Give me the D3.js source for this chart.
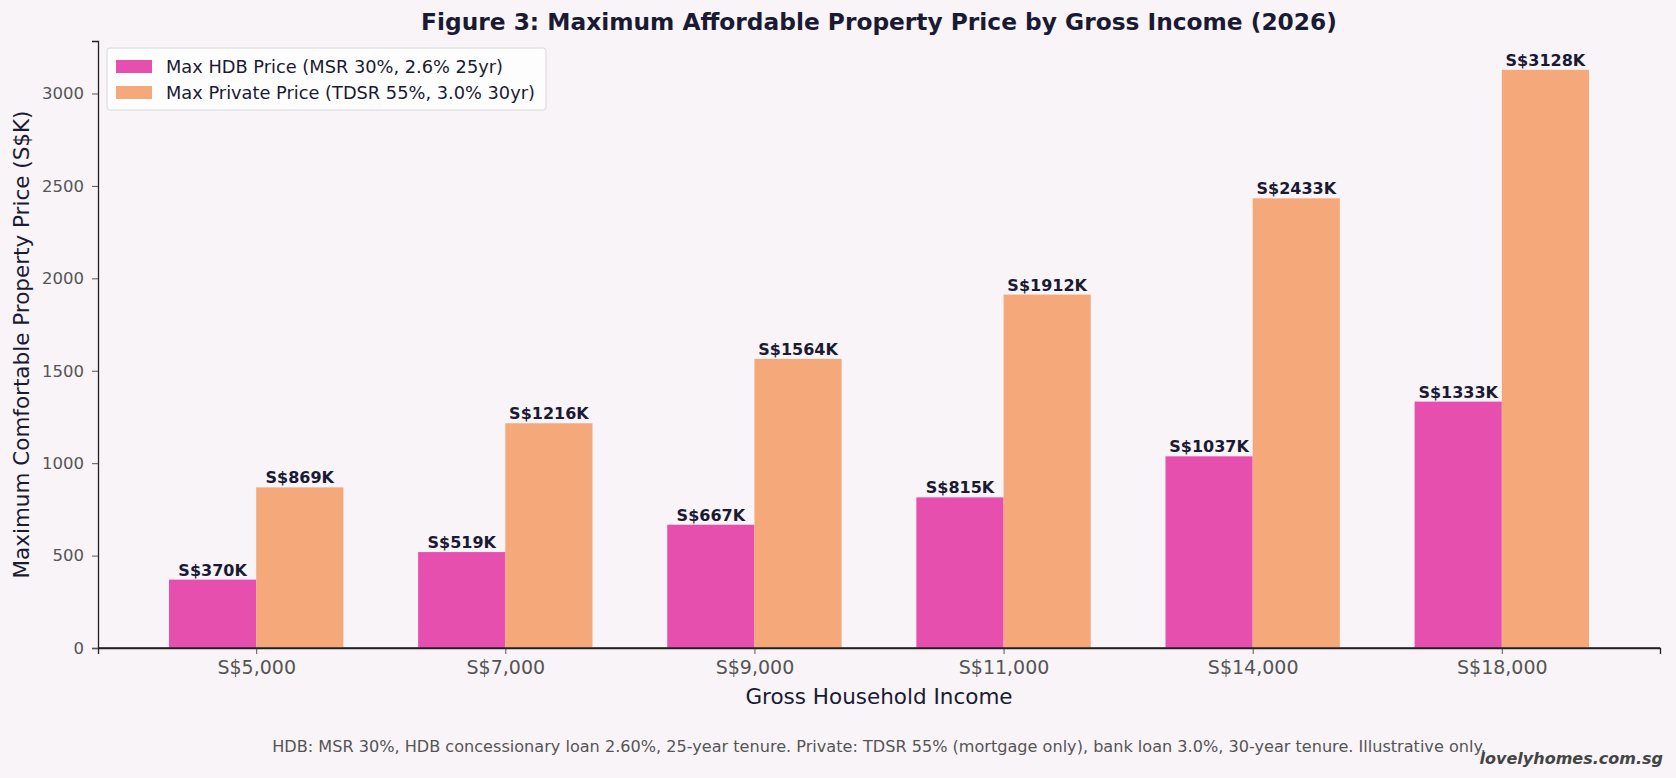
<!DOCTYPE html>
<html lang="en">
    <head>
        <meta charset="utf-8"/>
        <script src="https://d3js.org/d3.v7.min.js"></script>
        <style>
            body { margin: 0; background: #f8f4f8; }
            text { font-family: "DejaVu Sans", sans-serif; }
        </style>
    </head>
    <body>
        <div id="chart"></div>
    </body>
    <script>
        // chart data
        var incomes = ["S$5,000", "S$7,000", "S$9,000", "S$11,000", "S$14,000", "S$18,000"];
        var hdbPrice = [370, 519, 667, 815, 1037, 1333];
        var privatePrice = [869, 1216, 1564, 1912, 2433, 3128];
        var yTicks = [0, 500, 1000, 1500, 2000, 2500, 3000];
        var seriesNames = ["Max HDB Price (MSR 30%, 2.6% 25yr)", "Max Private Price (TDSR 55%, 3.0% 30yr)"];

        var W = 1676, H = 778;
        var margin = {top: 41, right: 16, bottom: 130, left: 98};
        var width = W - margin.left - margin.right;
        var height = H - margin.top - margin.bottom;
        var barW = 0.35;
        var colors = ["#e64fad", "#f5a97a"];
        var ink = "#1a1a33";

        var svg = d3.select("#chart")
            .append("svg")
                .attr("width", W)
                .attr("height", H)
                .style("background", "#f8f4f8");

        var g = svg.append("g")
            .attr("transform", "translate(" + margin.left + "," + margin.top + ")");

        // index based linear scale, like matplotlib bar positions
        var x = d3.scaleLinear()
            .domain([-0.635, incomes.length - 1 + 0.635])
            .range([0, width]);

        var y = d3.scaleLinear()
            .domain([0, 3284])
            .range([height, 0]);

        var xAxis = g.append("g")
            .attr("transform", "translate(0," + height + ")")
            .call(d3.axisBottom(x)
                .tickValues(d3.range(incomes.length))
                .tickFormat(function(i) { return incomes[i]; })
                .tickSizeOuter(0)
                .tickSize(6)
                .tickPadding(7));
        xAxis.selectAll("text").style("font-size", "19px").attr("fill", "#555");

        var yAxis = g.append("g")
            .call(d3.axisLeft(y)
                .tickValues(yTicks)
                .tickFormat(d3.format("d"))
                .tickSizeOuter(0)
                .tickSize(6)
                .tickPadding(8));
        yAxis.selectAll("text").style("font-size", "16.5px").attr("fill", "#555");

        g.selectAll(".domain").attr("stroke", "#222").attr("stroke-width", 1.3);
        g.selectAll(".tick line").attr("stroke", "#555");

        var series = [hdbPrice, privatePrice];
        series.forEach(function(vals, s) {
            var off = s === 0 ? -barW : 0;
            g.selectAll(".bar-" + s)
                .data(vals)
                .enter()
                .append("rect")
                    .attr("x", function(d, i) { return x(i + off); })
                    .attr("y", function(d) { return y(d); })
                    .attr("width", x(barW) - x(0))
                    .attr("height", function(d) { return height - y(d); })
                    .attr("fill", colors[s]);

            g.selectAll(".lab-" + s)
                .data(vals)
                .enter()
                .append("text")
                    .attr("x", function(d, i) { return x(i + off + barW / 2); })
                    .attr("y", function(d) { return y(d) - 4; })
                    .attr("text-anchor", "middle")
                    .style("font-size", "16px")
                    .style("font-weight", "bold")
                    .attr("fill", ink)
                    .text(function(d) { return "S$" + d + "K"; });
        });

        // redraw axis line above bars
        g.append("line").attr("x1", 0).attr("x2", width).attr("y1", height).attr("y2", height)
            .attr("stroke", "#222").attr("stroke-width", 1.3);

        // legend
        var lg = g.append("g").attr("transform", "translate(9,7)");
        lg.append("rect")
            .attr("width", 439).attr("height", 62).attr("rx", 3)
            .attr("fill", "#fff").attr("fill-opacity", 0.8)
            .attr("stroke", "#d8d8d8");
        seriesNames.forEach(function(name, s) {
            lg.append("rect")
                .attr("x", 9).attr("y", 12 + s * 26)
                .attr("width", 36).attr("height", 13)
                .attr("fill", colors[s]);
            lg.append("text")
                .attr("x", 59).attr("y", 25 + s * 26)
                .style("font-size", "17.8px")
                .attr("fill", ink)
                .text(name);
        });

        // titles
        svg.append("text")
            .attr("x", margin.left + width / 2).attr("y", 30)
            .attr("text-anchor", "middle")
            .style("font-size", "23.3px").style("font-weight", "bold")
            .attr("fill", ink)
            .text("Figure 3: Maximum Affordable Property Price by Gross Income (2026)");

        svg.append("text")
            .attr("x", margin.left + width / 2).attr("y", 704)
            .attr("text-anchor", "middle")
            .style("font-size", "21.5px")
            .attr("fill", ink)
            .text("Gross Household Income");

        svg.append("text")
            .attr("transform", "translate(29," + (margin.top + height / 2) + ") rotate(-90)")
            .attr("text-anchor", "middle")
            .style("font-size", "21.5px")
            .attr("fill", ink)
            .text("Maximum Comfortable Property Price (S$K)");

        svg.append("text")
            .attr("x", margin.left + width / 2).attr("y", 752)
            .attr("text-anchor", "middle")
            .style("font-size", "16.1px")
            .attr("fill", "#555")
            .text("HDB: MSR 30%, HDB concessionary loan 2.60%, 25-year tenure. Private: TDSR 55% (mortgage only), bank loan 3.0%, 30-year tenure. Illustrative only.");

        svg.append("text")
            .attr("x", 1663).attr("y", 764)
            .attr("text-anchor", "end")
            .style("font-size", "16px").style("font-weight", "bold").style("font-style", "italic")
            .attr("fill", "#444")
            .text("lovelyhomes.com.sg");
    </script>
</html>
